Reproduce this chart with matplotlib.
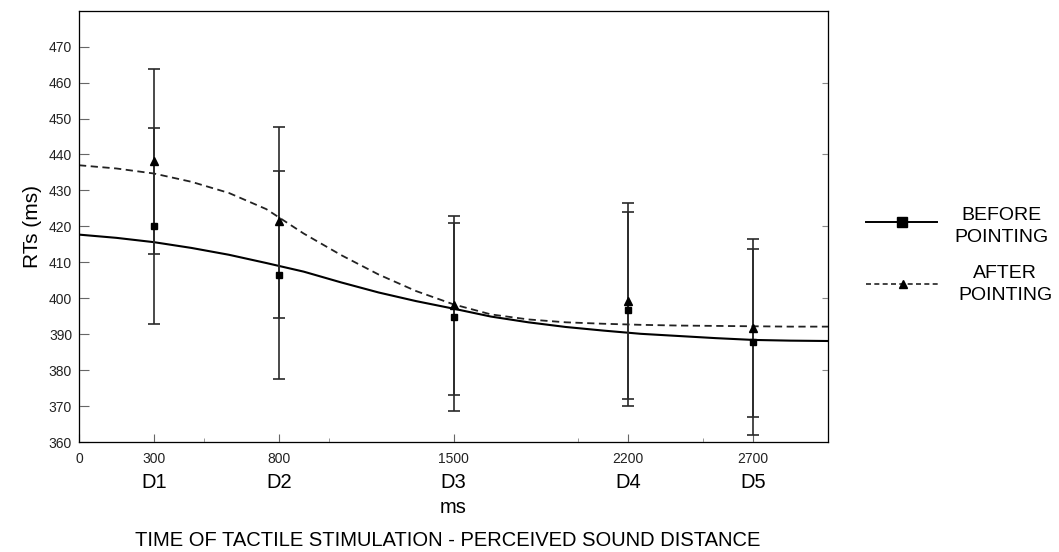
import matplotlib
matplotlib.use('Agg')
import matplotlib.pyplot as plt
import numpy as np

plt.rcParams['font.family'] = ['Liberation Sans', 'DejaVu Sans']

# stimulation times (ms) and distance labels
times = [300, 800, 1500, 2200, 2700]
dist_labels = ['D1', 'D2', 'D3', 'D4', 'D5']

# mean RTs and error bar ends
before_mean = [420.2, 406.5, 394.7, 396.8, 387.8]
before_low = [392.9, 377.4, 368.6, 369.9, 361.9]
before_high = [447.5, 435.4, 420.9, 423.9, 413.8]

after_mean = [438.1, 421.4, 398.2, 399.3, 391.8]
after_low = [412.3, 394.5, 373.0, 371.9, 367.0]
after_high = [463.8, 447.7, 423.0, 426.5, 416.5]

# fitted curves
curve_x = [0, 150, 300, 450, 600, 750, 900, 1050, 1200, 1350, 1500,
           1650, 1800, 1950, 2100, 2250, 2400, 2550, 2700, 2850, 3000]
before_curve = [417.7, 416.8, 415.6, 414.0, 412.1, 409.8, 407.4, 404.4, 401.6, 399.2, 397.1,
                394.9, 393.3, 392.0, 391.0, 390.1, 389.5, 388.9, 388.4, 388.2, 388.1]
after_curve = [437.0, 436.1, 434.7, 432.4, 429.3, 424.8, 418.0, 412.0, 406.6, 402.0, 398.3,
               395.5, 394.1, 393.3, 392.9, 392.6, 392.4, 392.3, 392.2, 392.1, 392.1]

xticks = [0, 300, 800, 1500, 2200, 2700]
minor_xticks = [500, 1000, 2000, 2500]
yticks = list(range(360, 480, 10))

W, H = 1059, 552
fig = plt.figure(figsize=(W / 100, H / 100), dpi=100)
ax = fig.add_axes([79 / W, 1 - 442 / H, (828 - 79) / W, (442 - 10.7) / H])

ax.plot(curve_x, before_curve, color='black', lw=1.5, zorder=3)
ax.plot(curve_x, after_curve, color='#222222', lw=1.3, ls=(0, (4, 2.5)), zorder=3)

t = np.array(times)
bm = np.array(before_mean)
am = np.array(after_mean)
ax.errorbar(t, bm, yerr=[bm - np.array(before_low), np.array(before_high) - bm],
            fmt='s', color='black', ms=5, ecolor='#2a2a2a', elinewidth=1.2,
            capsize=4, capthick=1.2, zorder=4)
ax.errorbar(t, am, yerr=[am - np.array(after_low), np.array(after_high) - am],
            fmt='^', color='black', ms=6, ecolor='#2a2a2a', elinewidth=1.2,
            capsize=4, capthick=1.2, zorder=4)

ax.set_xlim(0, 3000)
ax.set_ylim(360, 480)
ax.set_xticks(xticks)
ax.set_xticks(minor_xticks, minor=True)
ax.set_yticks(yticks)
ax.tick_params(axis='both', which='major', direction='in', labelsize=10, colors='#666666',
               labelcolor='#222222')
ax.tick_params(axis='x', which='major', length=6, pad=7)
ax.tick_params(axis='x', which='minor', direction='in', length=3, colors='#888888')
ax.tick_params(axis='y', which='major', length=7, pad=5)
for s in ax.spines.values():
    s.set_color('#888888')
    s.set_linewidth(1.0)

# right-side inner ticks
ax2 = ax.twinx()
ax2.set_ylim(360, 480)
ax2.set_yticks([380, 400, 420, 440, 460])
ax2.tick_params(axis='y', direction='in', length=4, colors='#888888', labelright=False)

ax.set_ylabel('RTs (ms)', fontsize=15, labelpad=5)

trans = ax.get_xaxis_transform()
for x, lab in zip(times, dist_labels):
    ax.text(x, -0.093, lab, transform=trans, ha='center', va='center', fontsize=14.5)
ax.text(0.5, -0.152, 'ms', transform=ax.transAxes, ha='center', va='center', fontsize=14.5)
fig.text(448 / W, 1 - 540 / H, 'TIME OF TACTILE STIMULATION - PERCEIVED SOUND DISTANCE',
         ha='center', va='center', fontsize=14.5)

# legend drawn by hand
ly1 = 1 - 222 / H
ly2 = 1 - 284 / H
fig.add_artist(plt.Line2D([866 / W, 937 / W], [ly1, ly1], color='black', lw=1.4))
fig.add_artist(plt.Line2D([902 / W], [ly1], marker='s', ms=7, color='black'))
fig.add_artist(plt.Line2D([866 / W, 939 / W], [ly2, ly2], color='#222222', lw=1.2,
                          ls=(0, (3, 2))))
fig.add_artist(plt.Line2D([903 / W], [ly2], marker='^', ms=6, color='black'))
fig.text(1001 / W, 1 - 226.5 / H, 'BEFORE\nPOINTING', ha='center', va='center',
         fontsize=14, linespacing=1.35)
fig.text(1005 / W, 1 - 284.5 / H, 'AFTER\nPOINTING', ha='center', va='center',
         fontsize=14, linespacing=1.35)

fig.savefig('out.png', dpi=100)
